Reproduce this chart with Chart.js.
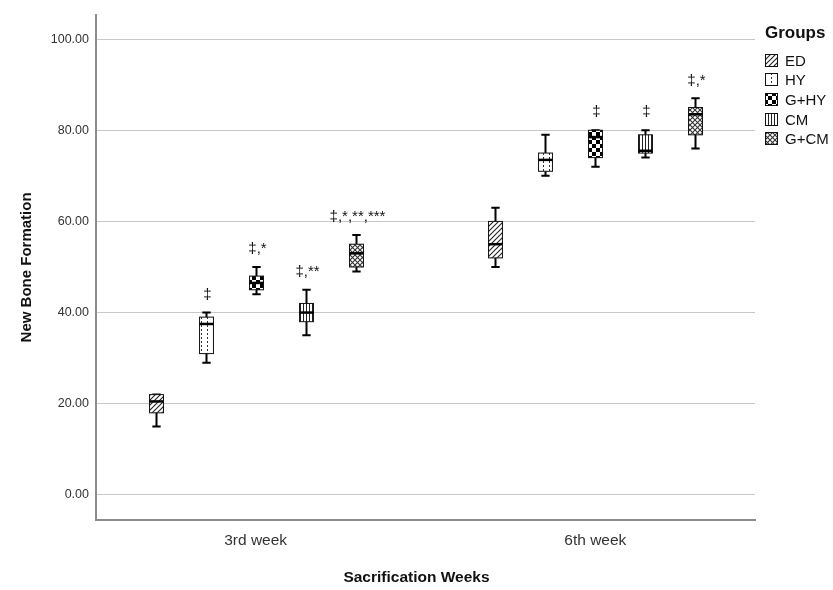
<!DOCTYPE html>
<html>
<head>
<meta charset="utf-8">
<script src="https://cdn.jsdelivr.net/npm/chart.js@4.4.1/dist/chart.umd.min.js"></script>
<style>
html, body { margin: 0; padding: 0; background: #fff; }
#wrap { width: 833px; height: 590px; }
</style>
</head>
<body>
<div id="wrap"><canvas id="boneChart"></canvas></div>
<script>
const weeks = ['3rd week', '6th week'];
const groups = ['ED', 'HY', 'G+HY', 'CM', 'G+CM'];

// each row is one group: [3rd week, 6th week]
const mins    = [[15, 50], [29, 70], [44, 72], [35, 74], [49, 76]];
const q1s     = [[18, 52], [31, 71], [45, 74], [38, 75], [50, 79]];
const medians = [[20.5, 55], [37.5, 73.5], [46.5, 78.5], [40, 75.5], [53, 83.5]];
const q3s     = [[22, 60], [39, 75], [48, 80], [42, 79], [55, 85]];
const maxs    = [[22, 63], [40, 79], [50, 80], [45, 80], [57, 87]];

const sigLabels = [['', ''], ['‡', ''], ['‡,*', '‡'], ['‡,**', '‡'], ['‡,*,**,***', '‡,*']];

const yTicks = [0, 20, 40, 60, 80, 100];

const patternKinds = ['diag', 'dots', 'check', 'vline', 'cross'];

const FONT = '"Liberation Sans", Arial, sans-serif';

// box layout in x units (one unit = one week)
const GROUP_STEP = 0.147;
const BOX_W = 0.041;

function makePattern(ctx, kind) {
    const c = document.createElement('canvas');
    const g = c.getContext('2d');
    if (kind === 'diag') {
        c.width = 5; c.height = 5;
        g.fillStyle = '#fff'; g.fillRect(0, 0, 5, 5);
        g.strokeStyle = '#222'; g.lineWidth = 1.1;
        g.beginPath();
        g.moveTo(-1, 6); g.lineTo(6, -1);
        g.moveTo(-1, 1); g.lineTo(1, -1);
        g.moveTo(4, 6); g.lineTo(6, 4);
        g.stroke();
    } else if (kind === 'dots') {
        c.width = 6; c.height = 4;
        g.fillStyle = '#fff'; g.fillRect(0, 0, 6, 4);
        g.fillStyle = '#333'; g.fillRect(3, 1, 1, 2);
    } else if (kind === 'check') {
        c.width = 8; c.height = 8;
        g.fillStyle = '#fff'; g.fillRect(0, 0, 8, 8);
        g.fillStyle = '#000';
        g.fillRect(0, 0, 4, 4); g.fillRect(4, 4, 4, 4);
    } else if (kind === 'vline') {
        c.width = 3; c.height = 1;
        g.fillStyle = '#fff'; g.fillRect(0, 0, 3, 1);
        g.fillStyle = '#222'; g.fillRect(0, 0, 1, 1);
    } else {
        c.width = 5; c.height = 5;
        g.fillStyle = '#fff'; g.fillRect(0, 0, 5, 5);
        g.strokeStyle = '#333'; g.lineWidth = 1.1;
        g.beginPath();
        g.moveTo(0, 0); g.lineTo(5, 5);
        g.moveTo(5, 0); g.lineTo(0, 5);
        g.stroke();
    }
    return ctx.createPattern(c, 'repeat');
}

const boxPlugin = {
    id: 'boxes',
    afterDatasetsDraw(chart) {
        const ctx = chart.ctx;
        const x = chart.scales.x;
        const y = chart.scales.y;
        if (!chart.$patterns) {
            chart.$patterns = patternKinds.map(k => makePattern(ctx, k));
        }
        const pats = chart.$patterns;
        const half = (x.getPixelForValue(BOX_W) - x.getPixelForValue(0)) / 2;
        const cap = half * 0.6;

        ctx.save();
        groups.forEach((grp, gi) => {
            weeks.forEach((wk, wi) => {
                const cx = Math.round(x.getPixelForValue(wi + 1 + (gi - 2) * GROUP_STEP)) + 0.5;
                const yMin = y.getPixelForValue(mins[gi][wi]);
                const yQ1 = y.getPixelForValue(q1s[gi][wi]);
                const yMed = y.getPixelForValue(medians[gi][wi]);
                const yQ3 = y.getPixelForValue(q3s[gi][wi]);
                const yMax = y.getPixelForValue(maxs[gi][wi]);

                // whiskers
                ctx.strokeStyle = '#000';
                ctx.lineWidth = 2;
                ctx.beginPath();
                ctx.moveTo(cx, yQ3); ctx.lineTo(cx, yMax);
                ctx.moveTo(cx, yQ1); ctx.lineTo(cx, yMin);
                ctx.moveTo(cx - cap, yMax); ctx.lineTo(cx + cap, yMax);
                ctx.moveTo(cx - cap, yMin); ctx.lineTo(cx + cap, yMin);
                ctx.stroke();

                // box
                ctx.fillStyle = pats[gi];
                ctx.fillRect(cx - half, yQ3, half * 2, yQ1 - yQ3);
                ctx.lineWidth = 1;
                ctx.strokeStyle = '#111';
                ctx.strokeRect(cx - half, yQ3, half * 2, yQ1 - yQ3);

                // median
                ctx.lineWidth = 2.5;
                ctx.strokeStyle = '#000';
                ctx.beginPath();
                ctx.moveTo(cx - half, yMed); ctx.lineTo(cx + half, yMed);
                ctx.stroke();

                // significance marks
                const lbl = sigLabels[gi][wi];
                if (lbl) {
                    ctx.fillStyle = '#111';
                    ctx.font = '15px ' + FONT;
                    ctx.textAlign = 'center';
                    ctx.textBaseline = 'middle';
                    ctx.fillText(lbl, cx + 1, yMax - 18);
                }
            });
        });

        // legend
        const lx = chart.chartArea.right + 10;
        ctx.fillStyle = '#111';
        ctx.textAlign = 'left';
        ctx.textBaseline = 'middle';
        ctx.font = 'bold 17px ' + FONT;
        ctx.fillText('Groups', lx, 33);
        ctx.font = '15px ' + FONT;
        groups.forEach((grp, gi) => {
            const cy = Math.round(60.5 + gi * 19.7);
            ctx.fillStyle = pats[gi];
            ctx.fillRect(lx + 0.5, cy - 6.5, 12, 12);
            ctx.strokeStyle = '#111';
            ctx.lineWidth = 1;
            ctx.strokeRect(lx + 0.5, cy - 6.5, 12, 12);
            ctx.fillStyle = '#111';
            ctx.fillText(grp, lx + 20, cy + 1);
        });
        ctx.restore();
    }
};

new Chart(document.getElementById('boneChart'), {
    type: 'scatter',
    data: { datasets: [] },
    plugins: [boxPlugin],
    options: {
        responsive: true,
        maintainAspectRatio: false,
        animation: false,
        layout: { padding: { top: 13, left: 0, right: 0, bottom: 0 } },
        plugins: {
            legend: { display: false },
            tooltip: { enabled: false },
            title: {
                display: true,
                position: 'bottom',
                text: 'Sacrification Weeks',
                color: '#111',
                font: { family: FONT, size: 15.5, weight: 'bold' },
                padding: { top: 8, bottom: 3 }
            }
        },
        scales: {
            x: {
                type: 'linear',
                min: 0.53,
                max: 2.47,
                afterBuildTicks: s => { s.ticks = weeks.map((w, i) => ({ value: i + 1 })); },
                afterFit: s => { s.height = 40; },
                ticks: {
                    padding: 11,
                    color: '#333',
                    font: { family: FONT, size: 15.5 },
                    callback: v => weeks[v - 1]
                },
                grid: { drawOnChartArea: false, drawTicks: false },
                border: { display: true, color: '#8c8c8c', width: 2 }
            },
            y: {
                type: 'linear',
                min: -5.6,
                max: 105.4,
                afterBuildTicks: s => { s.ticks = yTicks.map(v => ({ value: v })); },
                afterFit: s => { s.width = 96; },
                ticks: {
                    padding: 7,
                    color: '#333',
                    font: { family: FONT, size: 12.5 },
                    callback: v => v.toFixed(2)
                },
                grid: { color: '#c8c8c8', lineWidth: 1, drawTicks: false },
                border: { display: true, color: '#8c8c8c', width: 2 },
                title: {
                    display: true,
                    text: 'New Bone Formation',
                    color: '#111',
                    font: { family: FONT, size: 15, weight: 'bold' },
                    padding: { top: 18, bottom: 0 }
                }
            },
            side: {
                type: 'linear',
                position: 'right',
                display: true,
                afterFit: s => { s.width = 78; },
                ticks: { display: false },
                grid: { display: false, drawTicks: false },
                border: { display: false }
            }
        }
    }
});
</script>
</body>
</html>
